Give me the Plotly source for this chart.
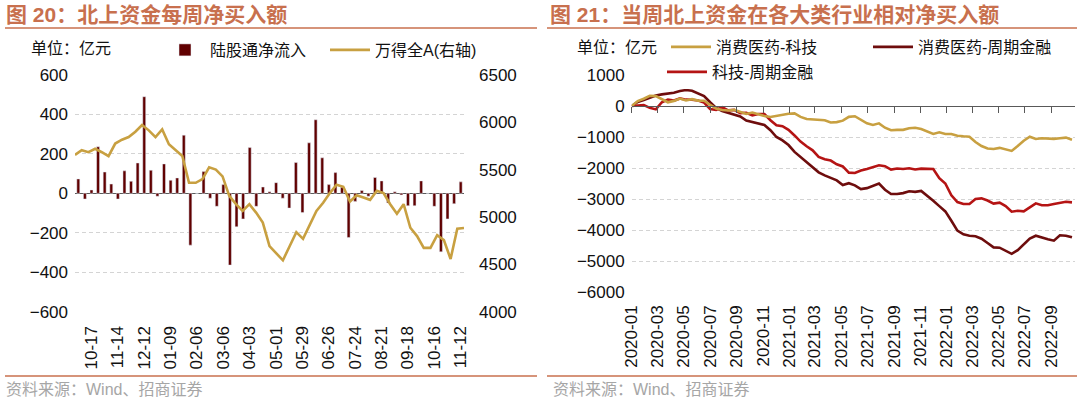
import pandas as pd
import plotly.graph_objects as go

# ---------------- Left chart data: weekly northbound net inflow ----------------
week_dates = [d.strftime("%Y-%m-%d") for d in pd.date_range("2021-10-03", periods=58, freq="7D")] + ["2022-11-12"]
tick_labels_left = ["10-17", "11-14", "12-12", "01-09", "02-06", "03-06", "04-03", "05-01",
                    "05-29", "06-26", "07-24", "08-21", "09-18", "10-16", "11-12"]
northbound_flow = [73, -29, 17, 236, 108, 47, -29, 114, 61, 154, 490, 117, -15, 149, 66, 78, 295, -263,
                   0, 110, -25, -66, 44, -364, -170, -130, 232, -66, 32, 8, 54, -25, -75, 156, -98, 256,
                   373, 180, 44, 105, 31, -224, -41, 14, -15, 80, 63, -49, 8, -8, -63, -63, 63, 0, -66,
                   -297, -130, -53, 58]
wind_all_a = [5656, 5705, 5684, 5720, 5684, 5642, 5776, 5816, 5844, 5901, 5972, 5915, 5844, 5925, 5769,
              5705, 5645, 5361, 5361, 5400, 5524, 5500, 5429, 5223, 5135, 5064, 5135, 5046, 4940, 4691,
              4620, 4542, 4691, 4840, 4769, 4922, 5064, 5150, 5252, 5340, 5319, 5163, 5230, 5206, 5181,
              5277, 5252, 5135, 5035, 5135, 4886, 4798, 4673, 4673, 4808, 4755, 4556, 4876, 4883]

# ---------------- Right chart data: cumulative relative net buying ----------------
period_dates = [d.strftime("%Y-%m-%d") for d in pd.date_range("2020-01-01", periods=74, freq="14D")]
consumer_vs_tech = [0, 160, 235, 330, 320, 225, 120, 165, 240, 180, 220, 175, 172, 40, -80, -130, -145,
                    -125, -185, -255, -210, -275, -320, -355, -320, -280, -250, -240, -350, -420, -430,
                    -430, -460, -530, -520, -473, -350, -330, -440, -560, -610, -560, -700, -780, -770,
                    -770, -720, -700, -740, -820, -900, -850, -903, -903, -960, -978, -990, -1160, -1290,
                    -1370, -1385, -1350, -1390, -1450, -1290, -1120, -990, -1065, -1040, -1045, -1060,
                    -1040, -1020, -1086]
consumer_vs_cyclical = [0, 130, 195, 260, 340, 375, 390, 425, 484, 515, 490, 410, 320, 120, -60, -160,
                        -220, -300, -340, -470, -520, -545, -610, -780, -1000, -1110, -1260, -1480, -1650,
                        -1800, -1960, -2140, -2240, -2330, -2400, -2548, -2490, -2560, -2680, -2650, -2570,
                        -2500, -2700, -2839, -2839, -2810, -2750, -2770, -2740, -2890, -3060, -3230, -3400,
                        -3700, -4020, -4140, -4185, -4204, -4280, -4420, -4560, -4570, -4680, -4770, -4650,
                        -4460, -4280, -4185, -4250, -4300, -4345, -4170, -4185, -4237]
tech_vs_cyclical = [0, 10, 30, -60, -110, 120, 210, 175, 245, 205, 204, 175, 110, -100, -130, -40, -140,
                    -125, -230, -220, -300, -260, -260, -460, -620, -650, -770, -950, -1150, -1300, -1430,
                    -1640, -1720, -1760, -1880, -1950, -2150, -2160, -2080, -2030, -1980, -1910, -1940,
                    -2050, -2015, -2030, -2010, -2050, -2020, -2020, -2032, -2330, -2500, -2880, -3100,
                    -3161, -3161, -3000, -2980, -3050, -3150, -3120, -3230, -3410, -3380, -3400, -3260,
                    -3140, -3200, -3200, -3160, -3120, -3090, -3108]

# ---------------- Styling ----------------
W, H = 1080, 397
NUM_FONT = "Liberation Sans, Arial, Noto Sans CJK SC, sans-serif"
CJK_FONT = "Liberation Sans, Noto Sans CJK SC, sans-serif"
TITLE_COLOR = "#C8704E"
BAR_COLOR = "#600000"
GOLD = "#C8A041"
DARK_RED = "#6E0D0D"
RED = "#B51414"
GRID = "#D4D4D4"
AXIS = "#595959"


def px_x(p):
    return p / W


def px_y(p):
    return (H - p) / H


left_dom_x = [px_x(75), px_x(464)]
left_dom_y = [px_y(311.6), px_y(75)]
right_dom_x = [px_x(631.7), px_x(1075)]
right_dom_y = [px_y(292), px_y(75)]
r_lo, r_hi = -6000, 1000
zero_pos = right_dom_y[0] + (right_dom_y[1] - right_dom_y[0]) * (0 - r_lo) / (r_hi - r_lo)

fig = go.Figure()

fig.add_trace(go.Bar(x=week_dates, y=northbound_flow, name="陆股通净流入", marker_color=BAR_COLOR,
                     xaxis="x", yaxis="y", legend="legend"))
fig.add_trace(go.Scatter(x=week_dates, y=wind_all_a, name="万得全A(右轴)", mode="lines",
                         line=dict(color=GOLD, width=2.6), xaxis="x2", yaxis="y2", legend="legend"))

fig.add_trace(go.Scatter(x=period_dates, y=consumer_vs_tech, name="消费医药-科技", mode="lines",
                         line=dict(color=GOLD, width=2.6), xaxis="x4", yaxis="y3", legend="legend2"))
fig.add_trace(go.Scatter(x=period_dates, y=consumer_vs_cyclical, name="消费医药-周期金融", mode="lines",
                         line=dict(color=DARK_RED, width=2.6), xaxis="x3", yaxis="y3", legend="legend2"))
fig.add_trace(go.Scatter(x=period_dates, y=tech_vs_cyclical, name="科技-周期金融", mode="lines",
                         line=dict(color=RED, width=2.6), xaxis="x3", yaxis="y3", legend="legend3"))

tickfont = dict(family=NUM_FONT, size=17, color="#111111")
legfont = dict(family=CJK_FONT, size=16, color="#111111")
r_range = ["2020-01-01", "2022-10-26"]

fig.update_layout(
    width=W, height=H, margin=dict(l=0, r=0, t=0, b=0, pad=0, autoexpand=False),
    paper_bgcolor="white", plot_bgcolor="white",
    bargap=0.55,
    xaxis=dict(domain=left_dom_x, anchor="y", type="category", range=[-0.5, len(week_dates) - 0.5],
               tickvals=week_dates[2::4], ticktext=tick_labels_left, tickangle=-90, tickfont=tickfont,
               showgrid=False, showline=False, ticks="", zeroline=False, automargin=False,
               ticklabelstandoff=10),
    xaxis2=dict(overlaying="x", anchor="y2", type="category", categoryorder="array",
                categoryarray=week_dates, range=[0, len(week_dates) - 1], visible=False),
    yaxis=dict(domain=left_dom_y, anchor="x", range=[-600, 600], dtick=200, tickfont=tickfont,
               showgrid=True, gridcolor=GRID, griddash="4px,3px", gridwidth=1,
               zeroline=True, zerolinecolor=AXIS, zerolinewidth=1, showline=False, ticks="",
               ticklabelstandoff=6, automargin=False),
    yaxis2=dict(overlaying="y", side="right", anchor="x", range=[4000, 6500], dtick=500,
                tickfont=tickfont, showgrid=False, zeroline=False, showline=False, ticks="",
                ticklabelstandoff=14, automargin=False),
    xaxis3=dict(domain=right_dom_x, anchor="y3", type="date", range=r_range, tick0="2020-01-01",
                dtick="M2", tickformat="%Y-%m", tickangle=-90, tickfont=tickfont,
                showgrid=False, showline=False, ticks="", zeroline=False, automargin=False,
                ticklabelstandoff=9),
    xaxis4=dict(overlaying="x3", anchor="free", position=zero_pos, type="date", range=r_range,
                tick0="2020-01-01", dtick="M2", ticks="outside", ticklen=6, tickcolor=AXIS,
                showticklabels=False, showline=True, linecolor=AXIS, linewidth=1, showgrid=False,
                zeroline=False),
    yaxis3=dict(domain=right_dom_y, anchor="x3", range=[r_lo, r_hi], dtick=1000, tickfont=tickfont,
                showgrid=True, gridcolor=GRID, griddash="4px,3px", gridwidth=1,
                zeroline=False, showline=False, ticks="", automargin=False, ticklabelstandoff=6),
    legend=dict(orientation="h", x=px_x(160), y=px_y(50), xanchor="left", yanchor="middle",
                font=legfont, itemwidth=40, entrywidth=110, bgcolor="rgba(255,255,255,0)",
                traceorder="normal"),
    legend2=dict(orientation="h", x=px_x(666), y=px_y(47), xanchor="left", yanchor="middle",
                 font=legfont, itemwidth=40, entrywidth=147, bgcolor="rgba(255,255,255,0)"),
    legend3=dict(orientation="h", x=px_x(662), y=px_y(72), xanchor="left", yanchor="middle",
                 font=legfont, itemwidth=40, bgcolor="white"),
    showlegend=True,
)

# Titles, units, sources
annos = [
    (5, 15, "图 20：北上资金每周净买入额", 21, TITLE_COLOR, True),
    (549, 15, "图 21：当周北上资金在各大类行业相对净买入额", 21, TITLE_COLOR, True),
    (30, 49, "单位：亿元", 16, "#111111", False),
    (576, 47, "单位：亿元", 16, "#111111", False),
    (5, 389, "资料来源：Wind、招商证券", 16, "#A6A6A6", False),
    (552, 389, "资料来源：Wind、招商证券", 16, "#A6A6A6", False),
]
for x, y, text, size, color, bold in annos:
    fig.add_annotation(x=px_x(x), y=px_y(y), xref="paper", yref="paper", xanchor="left", yanchor="middle",
                       align="left", text=text, showarrow=False, borderpad=0,
                       font=dict(family=CJK_FONT, size=size, color=color, weight="bold" if bold else "normal"))

# Title underlines and bottom rules
for x0, x1 in [(5, 537), (547, 1077)]:
    for yy in (28, 376):
        fig.add_shape(type="line", xref="paper", yref="paper", x0=px_x(x0), x1=px_x(x1),
                      y0=px_y(yy), y1=px_y(yy), line=dict(color=TITLE_COLOR, width=1.5))

fig.write_html("out.html",
               config={"displayModeBar": False, "staticPlot": True},
               post_script="document.body.style.margin='0px';document.body.style.overflow='hidden';")
